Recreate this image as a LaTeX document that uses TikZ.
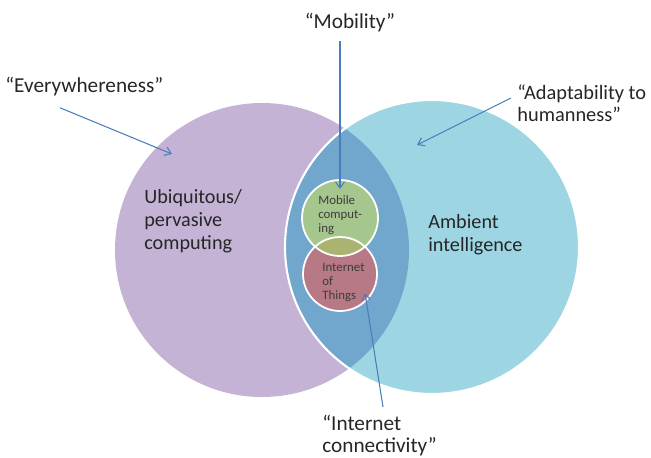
\documentclass[tikz,border=0pt]{standalone}
\usepackage{fontspec}
\setmainfont{Carlito}
\definecolor{ubipurple}{RGB}{197,179,214}
\definecolor{ambcyan}{RGB}{157,213,227}
\definecolor{lensblue}{RGB}{113,167,205}
\definecolor{mobgreen}{RGB}{165,198,141}
\definecolor{iotred}{RGB}{183,121,133}
\definecolor{overlapolive}{RGB}{170,180,112}
\definecolor{pointerblue}{RGB}{74,126,187}
\definecolor{inktext}{RGB}{38,38,38}
\usetikzlibrary{positioning,arrows.meta}
\tikzset{
  quote label/.style={font=\fontsize{12.1}{12.6}\selectfont, text=inktext, inner sep=0pt, align=left},
  area label/.style={font=\fontsize{11.5}{13.2}\selectfont, text=inktext, inner sep=0pt, align=left},
  small label/.style={font=\fontsize{7.3}{8}\selectfont, text=inktext!90, inner sep=0pt, align=left},
  pointer/.style={draw=pointerblue, line width=0.6pt, -{Straight Barb[length=3.5pt,width=5pt]}},
}

\begin{document}
\begin{tikzpicture}[x=0.02cm,y=-0.02cm]
  \useasboundingbox (0,0) rectangle (651,457);

  \coordinate (ubi) at (262,250);
  \coordinate (amb) at (432,247);
  \coordinate (mob) at (340,218);
  \coordinate (iot) at (340,274);

  % big sets
  \fill [ubipurple] (ubi) circle (147);
  \fill [ambcyan] (amb) circle (147);
  \begin{scope}
    \clip (ubi) circle (147);
    \fill [lensblue] (amb) circle (147);
  \end{scope}
  \draw [white, line width=1.2pt] (amb) circle (147);

  % small sets
  \fill [mobgreen] (mob) circle (38);
  \fill [iotred] (iot) circle (37);
  \begin{scope}
    \clip (mob) circle (38);
    \fill [overlapolive] (iot) circle (37);
  \end{scope}
  \draw [white, line width=1pt] (mob) circle (38) (iot) circle (37);

  \node [area label, anchor=north west] (ubitext) at (144,189) {Ubiquitous/\\pervasive\\computing};
  \node [area label, anchor=north west] (ambtext) at (428,214) {Ambient\\intelligence};
  \node [small label, anchor=north west] (mobtext) at (318,195) {Mobile\\comput-\\ing};
  \node [small label, anchor=north west] (iottext) at (322,263) {Internet\\of\\Things};

  \node [quote label, anchor=base west] (every) at (5,92) {“Everywhereness”};
  \node [quote label, anchor=base] (mobility) at (350,28) {“Mobility”};
  \node [quote label, font=\fontsize{11.6}{12.6}\selectfont, anchor=north west] (adapt) at (517,84) {“Adaptability to\\humanness”};
  \node [quote label, anchor=north west] (conn) at (322,415) {“Internet\\connectivity”};

  \coordinate (everytip) at (172,154);
  \coordinate (mobtip) at (340,189);
  \coordinate (adapttip) at (417,145);
  \coordinate (conntip) at (365,293);

  \draw [pointer] ([shift={(55,12)}]every.south west) -- (everytip);
  \draw [pointer] ([shift={(-10,9)}]mobility.south) -- (mobtip);
  \draw [pointer] ([shift={(-6,14)}]adapt.north west) -- (adapttip);
  \draw [pointer] ([shift={(61,-8)}]conn.north west) -- (conntip);

\end{tikzpicture}
\end{document}
